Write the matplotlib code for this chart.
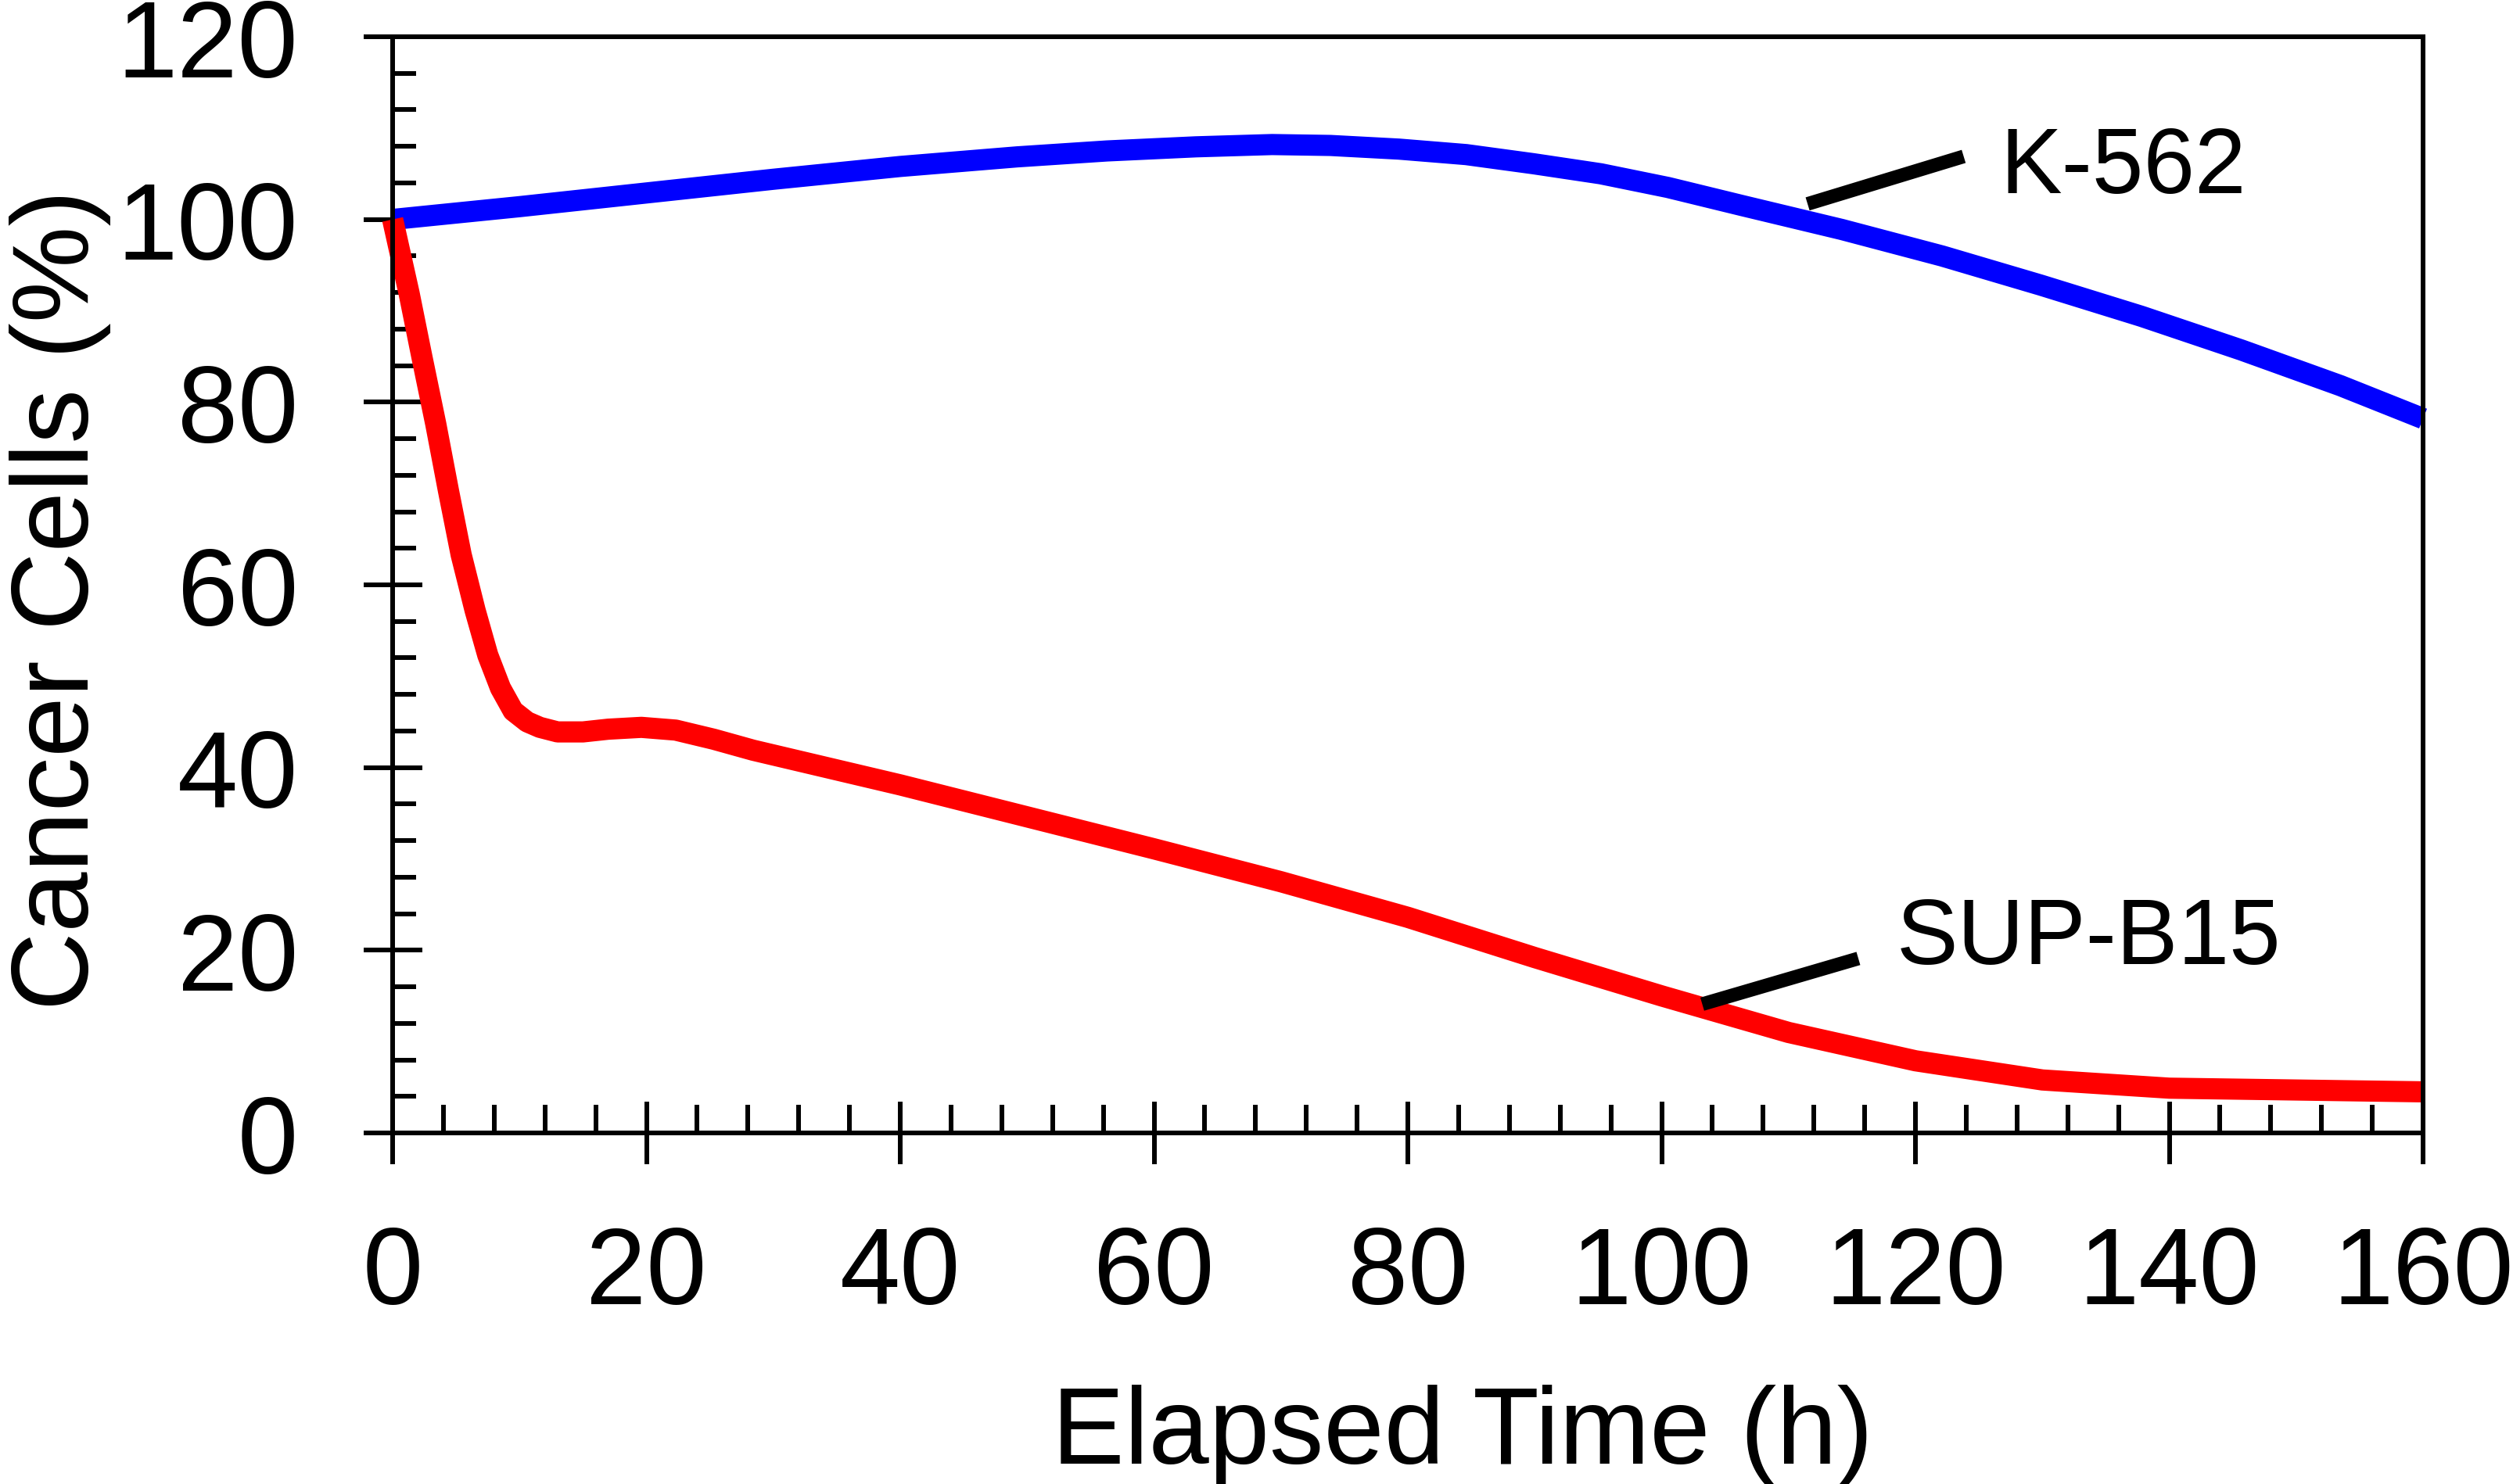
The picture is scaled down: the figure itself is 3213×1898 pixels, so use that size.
import matplotlib
matplotlib.use("Agg")
import matplotlib.pyplot as plt
from matplotlib.ticker import MultipleLocator

plt.rcParams['font.family'] = ['Liberation Sans', 'DejaVu Sans']

# K-562 (blue)
k562_t = [0, 10, 20, 30, 40, 49.2, 56.3, 63.3, 69.3, 73.9, 79.3, 84.6, 89.9, 95.2,
          100.5, 106.4, 114.2, 122.1, 129.9, 137.8, 145.7, 153.5, 160]
k562_v = [100, 101.4, 102.9, 104.4, 105.8, 106.85, 107.5, 107.95, 108.2, 108.1, 107.7,
          107.1, 106.1, 105.0, 103.5, 101.5, 98.9, 96.0, 92.8, 89.4, 85.7, 81.8, 78.2]

# SUP-B15 (red)
sup_t = [0, 1.3, 2.3, 3.4, 4.4, 5.4, 6.5, 7.5, 8.5, 9.5, 10.6, 11.6, 13, 15, 17,
         19.6, 22.3, 25.3, 28.4, 40, 50, 60, 70, 80, 90, 100, 110, 120, 130, 140, 150, 160]
sup_v = [100, 91.9, 85, 77.6, 70.3, 63.3, 57.2, 52.3, 48.7, 46.2, 45, 44.4, 43.9, 43.9, 44.2,
         44.4, 44.1, 43.1, 41.9, 38.1, 34.6, 31.1, 27.5, 23.6, 19.2, 15.0, 11.0, 7.9, 5.8, 4.9, 4.7, 4.5]

# labels and their leader lines (data coords)
k562_label = ("K-562", 126.7, 103.0)
k562_leader_x = [111.5, 123.8]
k562_leader_y = [101.7, 106.9]
sup_label = ("SUP-B15", 118.5, 18.6)
sup_leader_x = [103.2, 115.5]
sup_leader_y = [14.1, 19.1]

fig = plt.figure(figsize=(32.13, 18.99), dpi=100)
ax = fig.add_axes([0.15624, 0.23644, 0.80797, 0.73828])

ax.plot(k562_t, k562_v, color='#0000ff', linewidth=19.5, solid_capstyle='butt',
        solid_joinstyle='round', clip_on=False)
ax.plot(sup_t, sup_v, color='#ff0000', linewidth=19.5, solid_capstyle='butt',
        solid_joinstyle='round', clip_on=False)

ax.plot(k562_leader_x, k562_leader_y, color='black', linewidth=12.6, solid_capstyle='butt')
ax.plot(sup_leader_x, sup_leader_y, color='black', linewidth=12.6, solid_capstyle='butt')
ax.text(k562_label[1], k562_label[2], k562_label[0], fontsize=85, va='baseline', ha='left')
ax.text(sup_label[1], sup_label[2], sup_label[0], fontsize=85, va='baseline', ha='left')

ax.set_xlim(0, 160)
ax.set_ylim(0, 120)
ax.xaxis.set_major_locator(MultipleLocator(20))
ax.xaxis.set_minor_locator(MultipleLocator(4))
ax.yaxis.set_major_locator(MultipleLocator(20))
ax.yaxis.set_minor_locator(MultipleLocator(4))

for s in ax.spines.values():
    s.set_linewidth(4.3)

ax.tick_params(axis='x', which='major', direction='inout', length=57, width=4.3,
               labelsize=100, pad=56)
ax.tick_params(axis='x', which='minor', direction='in', length=26, width=4.3)
ax.tick_params(axis='y', which='major', direction='inout', length=54, width=4.3,
               labelsize=100, pad=60)
ax.tick_params(axis='y', which='minor', direction='in', length=21.6, width=4.3)

fig.text(1870 / 3213, 27 / 1899, "Elapsed Time (h)", fontsize=100,
         ha='center', va='baseline')
fig.text(113 / 3213, 1 - 767 / 1899, "Cancer Cells (%)", fontsize=100,
         rotation=90, rotation_mode='anchor', ha='center', va='baseline')

fig.savefig("out.png", dpi=100)
